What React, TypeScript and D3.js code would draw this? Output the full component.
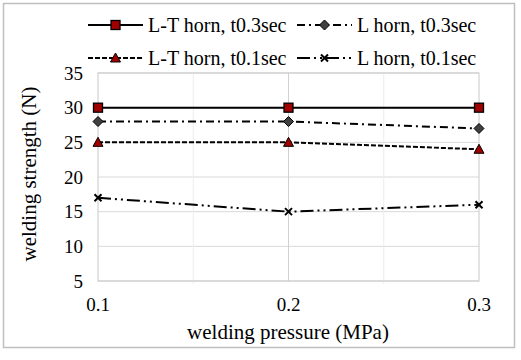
import React from "react";
import * as d3 from "d3";

const pressures = [0.1, 0.2, 0.3];
const ltHorn03 = [30, 30, 30];
const lHorn03 = [28, 28, 27];
const ltHorn01 = [25, 25, 24];
const lHorn01 = [17, 15, 16];
const yTicks = [5, 10, 15, 20, 25, 30, 35];
const xTicks = [0.1, 0.2, 0.3];
const seriesNames = ["L-T horn, t0.3sec", "L horn, t0.3sec", "L-T horn, t0.1sec", "L horn, t0.1sec"];

const W = 521, H = 360;
const FONT = "Liberation Serif";

type Marker = "square" | "diamond" | "triangle" | "x";
interface Series { name: string; values: number[]; dash: string; marker: Marker; width: number }

const series: Series[] = [
  { name: seriesNames[0], values: ltHorn03, dash: "", marker: "square", width: 2 },
  { name: seriesNames[1], values: lHorn03, dash: "8,4,2,4", marker: "diamond", width: 2 },
  { name: seriesNames[2], values: ltHorn01, dash: "5,2", marker: "triangle", width: 2 },
  { name: seriesNames[3], values: lHorn01, dash: "13,4,2,4,2,4", marker: "x", width: 2 },
];

function MarkerShape({ type, x, y }: { type: Marker; x: number; y: number }) {
  if (type === "square") return <rect x={x - 4.5} y={y - 4.5} width={9} height={9} fill="#a00000" stroke="#000" strokeWidth={1.3} />;
  if (type === "diamond") {
    const s = 5;
    return <path d={`M${x},${y - s}L${x + s},${y}L${x},${y + s}L${x - s},${y}Z`} fill="#404040" stroke="#000" strokeWidth={1} />;
  }
  if (type === "triangle") {
    return <path d={`M${x},${y - 5}L${x + 5},${y + 4}L${x - 5},${y + 4}Z`} fill="#a00000" stroke="#000" strokeWidth={1} />;
  }
  const s = 3.5;
  return <path d={`M${x - s},${y - s}L${x + s},${y + s}M${x + s},${y - s}L${x - s},${y + s}`} stroke="#000" strokeWidth={2} />;
}

export default function App() {
  const left = 98, right = 479, top = 73, bottom = 281;
  const x = d3.scaleLinear().domain([0.1, 0.3]).range([left, right]);
  const y = d3.scaleLinear().domain([5, 35]).range([bottom, top]);
  const line = d3.line<number>().x((_, i) => x(pressures[i])).y((v) => y(v));
  const minorX = [0.15, 0.25];

  const legendPos = [
    { lx: 88, ly: 25 }, { lx: 297, ly: 25 },
    { lx: 88, ly: 58 }, { lx: 297, ly: 58 },
  ];
  const ts = { fontFamily: FONT };

  return (
    <svg width={W} height={H} style={{ position: "absolute", left: 0, top: 0, background: "#fff" }}>
      <rect x={0} y={0} width={W} height={H} fill="#fff" />
      <rect x={3.5} y={3.5} width={511} height={344} fill="none" stroke="#bfbfbf" strokeWidth={1.5} />
      {yTicks.map((t) => (
        <line key={"g" + t} x1={left} x2={right} y1={y(t)} y2={y(t)} stroke="#d9d9d9" strokeWidth={1} />
      ))}
      {minorX.map((t) => (
        <line key={"m" + t} x1={x(t)} x2={x(t)} y1={top} y2={bottom + 3} stroke="#ececec" strokeWidth={1} />
      ))}
      <line x1={x(0.2)} x2={x(0.2)} y1={top} y2={bottom} stroke="#d0d0d0" strokeWidth={1} />
      <rect x={left} y={top} width={right - left} height={bottom - top} fill="none" stroke="#c8c8c8" strokeWidth={1} />
      {yTicks.map((t) => (
        <text key={"y" + t} style={ts} x={83} y={y(t)} dy="0.35em" textAnchor="end" fontSize={19} fill="#000">{t}</text>
      ))}
      {xTicks.map((t) => (
        <text key={"x" + t} style={ts} x={x(t)} y={304} dy="0.35em" textAnchor="middle" fontSize={19} fill="#000">{d3.format(".1f")(t)}</text>
      ))}
      <text style={ts} x={288} y={332} dy="0.35em" textAnchor="middle" fontSize={21} fill="#000">welding pressure (MPa)</text>
      <text style={ts} transform={`translate(29,${174}) rotate(-90)`} dy="0.35em" textAnchor="middle" fontSize={21} fill="#000">welding strength (N)</text>
      {series.map((s) => (
        <g key={s.name}>
          <path d={line(s.values) || ""} fill="none" stroke="#000" strokeWidth={s.width} strokeDasharray={s.dash} />
          {s.values.map((v, i) => (
            <MarkerShape key={i} type={s.marker} x={x(pressures[i])} y={y(v)} />
          ))}
        </g>
      ))}
      {series.map((s, i) => {
        const p = legendPos[i];
        return (
          <g key={"l" + s.name}>
            <line x1={p.lx} x2={p.lx + 55} y1={p.ly} y2={p.ly} stroke="#000" strokeWidth={s.width} strokeDasharray={s.dash} />
            <MarkerShape type={s.marker} x={p.lx + 27.5} y={p.ly} />
            <text style={ts} x={p.lx + 60} y={p.ly} dy="0.35em" fontSize={20} fill="#000">{s.name}</text>
          </g>
        );
      })}
    </svg>
  );
}
